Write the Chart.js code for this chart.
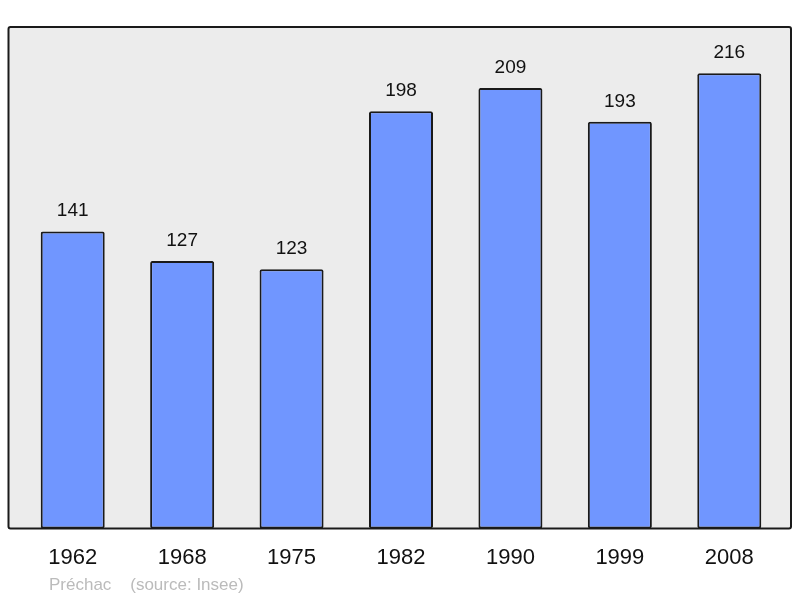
<!DOCTYPE html>
<html>
<head>
<meta charset="utf-8">
<script src="https://cdn.jsdelivr.net/npm/chart.js@4/dist/chart.umd.min.js"></script>
<style>
  body { margin: 0; background: #fff; }
  #wrap { width: 800px; height: 598px; position: relative; }
</style>
</head>
<body>
<div id="wrap"><canvas id="pop"></canvas></div>
<script>
const years = ['1962', '1968', '1975', '1982', '1990', '1999', '2008'];
const population = [141, 127, 123, 198, 209, 193, 216];
const footer = 'Préchac    (source: Insee)';

// grey frame drawn a bit wider than the real chart area
const frame = {
	id: 'frame',
	beforeDraw(chart) {
		const ctx = chart.ctx;
		const a = chart.chartArea;
		const x = a.left - 9.5, y = a.top, w = a.right - a.left + 16.5, h = a.bottom - a.top;
		ctx.save();
		ctx.fillStyle = '#ececec';
		ctx.fillRect(x, y, w, h);
		ctx.restore();
	},
	afterDatasetsDraw(chart) {
		const ctx = chart.ctx;
		const a = chart.chartArea;
		const x = a.left - 9.5, y = a.top, w = a.right - a.left + 16.5, h = a.bottom - a.top;
		ctx.save();
		ctx.strokeStyle = '#1a1a1a';
		ctx.lineWidth = 2;
		ctx.beginPath();
		ctx.roundRect(x, y, w, h, 2);
		ctx.stroke();

		// values above bars
		ctx.fillStyle = '#111';
		ctx.font = '19px "Liberation Sans", Arial, sans-serif';
		ctx.textAlign = 'center';
		ctx.textBaseline = 'alphabetic';
		chart.getDatasetMeta(0).data.forEach((bar, i) => {
			ctx.fillText(population[i], bar.x, bar.y - 15);
		});

		// footer
		ctx.fillStyle = '#bbbbbb';
		ctx.font = '17px "Liberation Sans", Arial, sans-serif';
		ctx.textAlign = 'left';
		ctx.fillText(footer, 49, 590);
		ctx.restore();
	}
};

new Chart(document.getElementById('pop').getContext('2d'), {
	type: 'bar',
	data: {
		labels: years,
		datasets: [{
			data: population,
			backgroundColor: '#7096ff',
			borderColor: '#1a1a1a',
			borderWidth: 2,
			borderRadius: 2,
			borderSkipped: false,
			barPercentage: 0.585,
			categoryPercentage: 1
		}]
	},
	options: {
		responsive: true,
		maintainAspectRatio: false,
		animation: false,
		layout: { padding: { left: 18, right: 16, top: 27, bottom: 11 } },
		plugins: {
			legend: { display: false },
			tooltip: { enabled: false }
		},
		scales: {
			x: {
				grid: { display: false, drawTicks: false },
				border: { display: false },
				ticks: {
					color: '#111',
					font: { family: '"Liberation Sans", Arial, sans-serif', size: 22 },
					padding: 16
				}
			},
			y: {
				display: false,
				min: 0,
				max: 238
			}
		}
	},
	plugins: [frame]
});
</script>
</body>
</html>
